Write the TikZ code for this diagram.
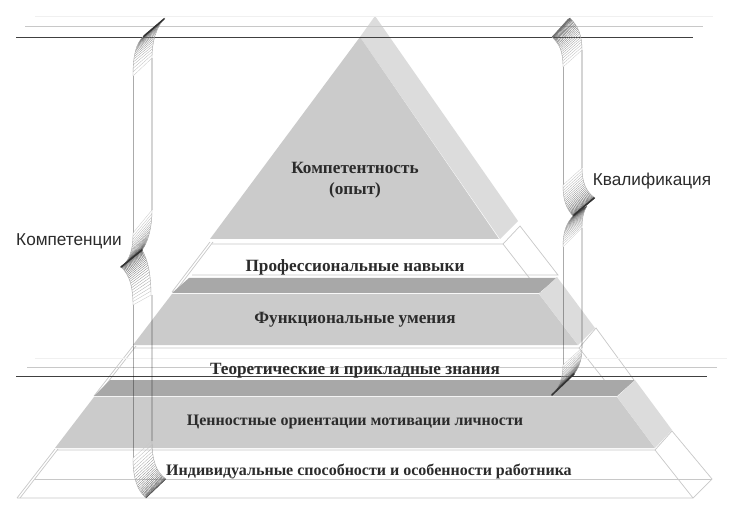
\documentclass[tikz,border=0pt]{standalone}
\usepackage{fontspec}
\setmainfont{Liberation Serif}
\newfontfamily\labelfont{Liberation Sans}
\definecolor{frontgray}{HTML}{CBCBCB}
\definecolor{sidegray}{HTML}{DCDCDC}
\definecolor{bandgray}{HTML}{A8A8A8}
\definecolor{edgegray}{HTML}{C8C8C8}
\definecolor{ink}{HTML}{2B2B2B}
\tikzset{
  edge/.style={draw=edgegray,line width=.7pt},
  level/.style={font=\fontsize{17.2}{20}\selectfont\bfseries,text=ink,inner sep=0pt,align=center},
  lowlevel/.style={level,font=\fontsize{16}{19}\selectfont\bfseries},
  side/.style={font=\labelfont\fontsize{17.2}{20}\selectfont,text=ink,inner sep=0pt},
  rail/.style={black,opacity=.33,line width=.9pt},
  farrail/.style={black,opacity=.17,line width=1.1pt},
  tipline/.style={black!80,line width=1.5pt,line cap=round}
}
% hatched twist of a brace: two edges, from the rail to the tip
\newcommand{\hatchband}[8]{
  \foreach \k in {0,.04,...,1.01}{
    \pgfmathsetmacro{\posn}{min(1,1-(1-\k)^1.7)}
    \pgfmathsetmacro{\lev}{22+50*\posn}
    \path (#1) .. controls (#2) and (#3) .. (#4) coordinate[pos=\posn] (hatcha);
    \path (#5) .. controls (#6) and (#7) .. (#8) coordinate[pos=\posn] (hatchb);
    \draw[black!\lev,line width=.3pt] (hatcha)--(hatchb);
  }
  \draw[black!35,line width=.4pt] (#1) .. controls (#2) and (#3) .. (#4);
  \draw[black!35,line width=.4pt] (#5) .. controls (#6) and (#7) .. (#8);
}

\begin{document}
\begin{tikzpicture}[x=1pt,y=-1pt]
  \useasboundingbox[fill=white] (0,0) rectangle (730,518);
  % pyramid: top
  \fill[sidegray] (375,16)--(518,221)--(500,239)--(360,37)--cycle;
  \fill[frontgray] (360,37)--(499,239)--(210,239)--cycle;
  % professional skills
  \draw[edge] (212,244)--(503,244)--(520,226)--(558,275)--(192,275);
  \draw[edge] (503,244)--(541,293);
  \draw[edge] (210,242)--(172,292) (213,242)--(175,292);
  % functional
  \fill[bandgray] (189,278)--(557,278)--(539,293)--(172,293)--cycle;
  \fill[frontgray] (172,294)--(539,294)--(578,345)--(133,345)--cycle;
  \fill[sidegray] (539,294)--(557,277)--(595,328)--(578,345)--cycle;
  % theoretical
  \draw[edge] (133,348)--(579,348)--(596,328)--(634,380);
  \draw[edge] (579,348)--(617,396);
  \draw[edge] (133,346)--(94,396) (136,346)--(97,396);
  % values
  \fill[bandgray] (110,380)--(635,380)--(617,396)--(94,396)--cycle;
  \fill[frontgray] (94,397)--(617,397)--(655,448)--(55,448)--cycle;
  \fill[sidegray] (617,397)--(635,380)--(672,430)--(655,448)--cycle;
  % abilities
  \draw[edge] (57,450)--(655,450)--(672,431)--(712,479)--(693,498)--(17,498);
  \draw[edge] (655,450)--(693,498);
  \draw[edge] (35,479)--(712,479);
  \draw[edge] (55,449)--(17,498) (58,449)--(20,498);
  % horizontal levels
  \draw[black!6] (35,16)--(713,16);
  \draw[edgegray] (25,26)--(703,26);
  \draw[black!75,line width=.9pt] (16,37)--(693,37);
  \draw[black!6] (35,358)--(727,358);
  \draw[edgegray] (27,367)--(717,367);
  \draw[black!75,line width=.9pt] (16,376)--(707,376);
  % left brace
  \draw[rail] (133,76)--(133,233) (133,305)--(133,458);
  \draw[farrail] (152,58)--(152,210) (152,295)--(152,441);
  \hatchband{133,76}{133,55}{136,44}{143,37}{152,58}{152,42}{156,27}{165,18}
  \draw[tipline] (144,36)--(164,19);
  \hatchband{133,233}{133,250}{130,260}{121,267}{152,210}{152,228}{148,242}{142,250}
  \hatchband{133,305}{133,288}{130,275}{121,267}{151,295}{151,275}{148,260}{142,250}
  \draw[tipline] (121,267)--(142,250);
  \hatchband{133,458}{133,478}{137,490}{146,498}{152,441}{152,460}{156,472}{166,479}
  % right brace
  \draw[rail] (563,67)--(563,185) (563,247)--(563,365);
  \draw[farrail] (582,50)--(582,168) (582,228)--(582,348);
  \hatchband{563,67}{563,50}{559,44}{552,37}{582,50}{582,35}{578,26}{570,18}
  \draw[black!55,line width=1.7pt] (553,37)--(569,19);
  \hatchband{563,185}{563,200}{566,208}{573,216}{582,168}{582,182}{586,192}{595,198}
  \hatchband{563,247}{563,232}{566,224}{573,216}{582,228}{582,220}{583,212}{587,206}
  \draw[tipline] (574,215)--(594,198);
  \hatchband{563,365}{563,378}{559,388}{551,395}{582,348}{582,358}{580,366}{574,374}
  \draw[tipline] (552,395)--(574,374);
  % labels
  \node[level] (topnode) at (355,180) {Компетентность\\[1pt](опыт)};
  \node[level] (skills) at (355,267) {Профессиональные навыки};
  \node[level] (abilities) at (355,320) {Функциональные умения};
  \node[level] (knowledge) at (355,371) {Теоретические и прикладные знания};
  \node[lowlevel] (values) at (355,422) {Ценностные ориентации мотивации личности};
  \node[lowlevel] (personal) at (369,471) {Индивидуальные способности и особенности работника};
  \node[side] (competences) at (69,241) {Компетенции};
  \node[side] (qualification) at (652,181) {Квалификация};
\end{tikzpicture}
\end{document}
